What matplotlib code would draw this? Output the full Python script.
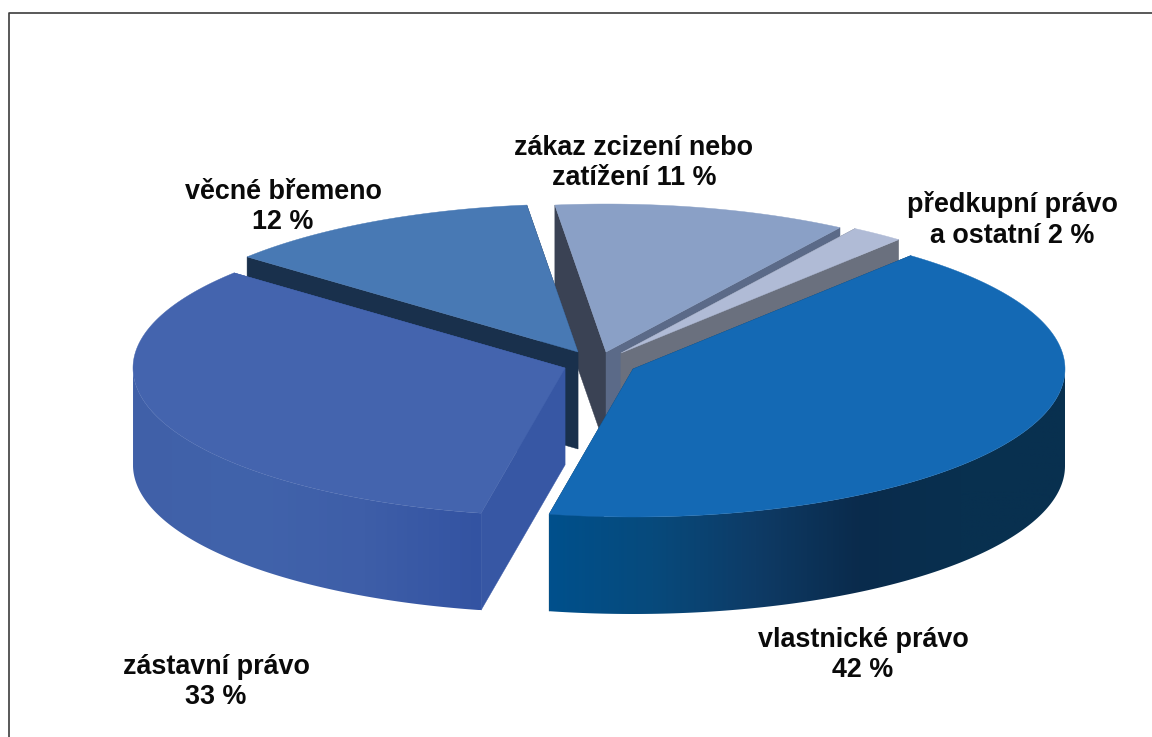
import matplotlib
matplotlib.use('Agg')
import matplotlib.pyplot as plt
import numpy as np
from matplotlib.colors import LinearSegmentedColormap
from matplotlib.patches import Polygon

# hodnoty v procentech
categories = ['vlastnické právo', 'zástavní právo', 'věcné břemeno',
              'zákaz zcizení nebo zatížení', 'předkupní právo a ostatní']
values = [42, 33, 12, 11, 2]
label_texts = ['vlastnické právo\n42 %', 'zástavní právo\n33 %', 'věcné břemeno\n12 %',
               'zákaz zcizení nebo\nzatížení 11 %', 'předkupní právo\na ostatní 2 %']

# vzhled - pixely obrazku
start_angle = 50
rx, ry = 432, 148
depth = 97
apex = [(633, 369), (565, 368), (578, 352), (606, 352), (621, 353)]
label_pos = [(863, 655), (216, 682), (283, 207), (634, 163), (1012, 220)]
top_colors = ['#1469b4', '#4464ae', '#4879b4', '#8aa0c6', '#b0bbd6']
face_colors = [('#0d3a5c', '#0d3a5c'), ('#3757a4', '#3757a4'), ('#19304c', '#19304c'),
               ('#3a4254', '#5b6a88'), ('#6a707e', '#6a707e')]
wall_colors = [['#00508c', '#074a7c', '#0e3b66', '#0a2b4c', '#08304f', '#08304f'],
               ['#4060a8', '#4163ab', '#3e5ea8', '#3353a2'],
               ['#19304c', '#19304c'], ['#3a4254', '#3a4254'], ['#6a707e', '#6a707e']]
# kresli se odzadu dopredu
draw_order = [3, 4, 2, 1, 0]

fig = plt.figure(figsize=(11.52, 7.37), dpi=100)
ax = fig.add_axes([0, 0, 1, 1])
ax.axis('off')

# ramecek jen nahore a vlevo
ax.plot([1152, 9, 9], [13, 13, 737], color='#3c3c3c', linewidth=1.2)


def outline(center, a0, a1, n=200):
    t = np.radians(np.linspace(a0, a1, n))
    return center[0] + rx * np.cos(t), center[1] - ry * np.sin(t), np.sin(t)


# uhly rezu spocitane z hodnot
edges = start_angle - np.cumsum([0] + values) * 3.6

for z, i in enumerate(draw_order):
    a0, a1 = edges[i], edges[i + 1]
    c = apex[i]
    xs, ys, sn = outline(c, a0, a1)

    # rezy
    for k, (px, py) in enumerate([(xs[0], ys[0]), (xs[-1], ys[-1])]):
        quad = [c, (px, py), (px, py + depth), (c[0], c[1] + depth)]
        ax.fill(*zip(*quad), color=face_colors[i][k], linewidth=0.3, zorder=z * 3 + 1)

    # vnejsi stena jen vpredu - prechod podle x
    front = sn < 0
    if front.sum() > 1:
        wx, wy = xs[front], ys[front]
        cmap = LinearSegmentedColormap.from_list('wall%d' % i, wall_colors[i])
        im = ax.imshow(np.linspace(0, 1, 512)[None, :], cmap=cmap, aspect='auto', vmin=0, vmax=1,
                       extent=[wx.min(), wx.max(), wy.max() + depth, wy.min()], zorder=z * 3 + 2)
        wall = Polygon(np.c_[np.r_[wx, wx[::-1]], np.r_[wy, wy[::-1] + depth]], transform=ax.transData)
        im.set_clip_path(wall)

    # horni plocha
    ax.fill(np.r_[c[0], xs], np.r_[c[1], ys], color=top_colors[i], linewidth=0.3, zorder=z * 3 + 3)

for txt, pos in zip(label_texts, label_pos):
    ax.text(pos[0], pos[1], txt, ha='center', va='center', fontsize=19.4, fontweight='bold',
            family='Liberation Sans', color='#0a0a0a', linespacing=1.24, zorder=30)

ax.set_xlim(0, 1152)
ax.set_ylim(737, 0)

fig.savefig('out.png', dpi=100)
